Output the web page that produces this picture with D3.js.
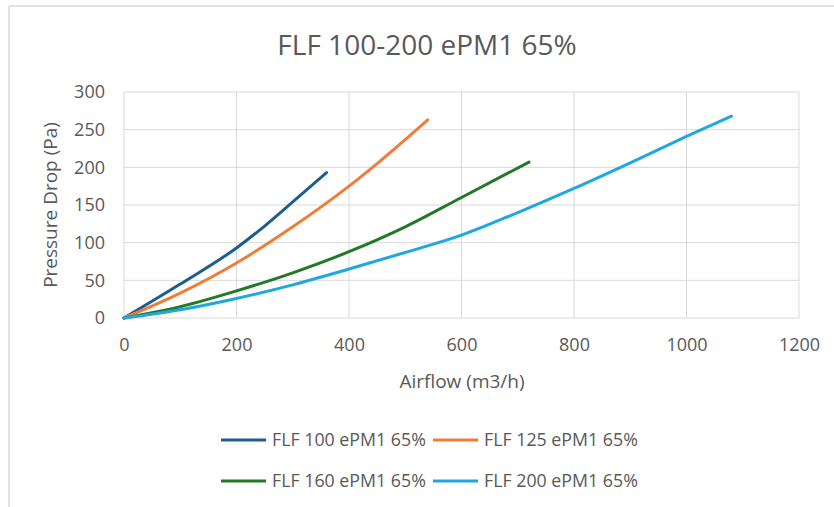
<!DOCTYPE html>
<html>
<head>
<meta charset="utf-8">
<script src="https://cdn.jsdelivr.net/npm/d3@7"></script>
<style>
  body { margin: 0; background: #fff; }
  svg text { font-family: "Open Sans", "Noto Sans", sans-serif; fill: #595959; }
</style>
</head>
<body>
<svg id="chart" width="834" height="507"></svg>
<script>
const seriesNames = ["FLF 100 ePM1 65%", "FLF 125 ePM1 65%", "FLF 160 ePM1 65%", "FLF 200 ePM1 65%"];
const seriesColors = ["#1d5f8a", "#f07c3a", "#23782a", "#1ea7e1"];

const flf100 = [[0,0],[100,45],[200,93],[250,122],[300,154],[360,193]];
const flf125 = [[0,0],[100,33],[200,73],[300,121],[400,175],[450,205],[540,263]];
const flf160 = [[0,0],[100,15],[200,36],[300,60],[400,88],[500,121],[600,160],[720,207]];
const flf200 = [[0,0],[100,11],[200,26],[300,44],[400,65],[500,87],[600,110],[700,140],[800,172],[900,206],[1000,241],[1080,268]];

const xTicks = [0,200,400,600,800,1000,1200];
const yTicks = [0,50,100,150,200,250,300];

const allSeries = [flf100, flf125, flf160, flf200];

const svg = d3.select("#chart");
const plot = {left:124, right:799, top:92, bottom:318};

// chart frame (only top and left edges show in the source)
svg.append("line").attr("x1",9).attr("x2",834).attr("y1",6).attr("y2",6)
   .attr("stroke","#d9d9d9").attr("stroke-width",1.5);
svg.append("line").attr("x1",9).attr("x2",9).attr("y1",6).attr("y2",507)
   .attr("stroke","#d9d9d9").attr("stroke-width",1.5);

const x = d3.scaleLinear().domain([0,1200]).range([plot.left, plot.right]);
const y = d3.scaleLinear().domain([0,300]).range([plot.bottom, plot.top]);

// gridlines
svg.append("g")
  .selectAll("line").data(xTicks).join("line")
  .attr("x1",d=>x(d)).attr("x2",d=>x(d))
  .attr("y1",plot.top).attr("y2",plot.bottom)
  .attr("stroke","#d9d9d9").attr("stroke-width",1);
svg.append("g")
  .selectAll("line").data(yTicks).join("line")
  .attr("x1",plot.left).attr("x2",plot.right)
  .attr("y1",d=>y(d)).attr("y2",d=>y(d))
  .attr("stroke","#d9d9d9").attr("stroke-width",1);

// axes, text only
const xAxis = svg.append("g").attr("transform",`translate(0,${plot.bottom})`)
  .call(d3.axisBottom(x).tickValues(xTicks).tickSize(0).tickPadding(20).tickFormat(d3.format("d")));
const yAxis = svg.append("g").attr("transform",`translate(${plot.left},0)`)
  .call(d3.axisLeft(y).tickValues(yTicks).tickSize(0).tickPadding(19).tickFormat(d3.format("d")));
[xAxis, yAxis].forEach(a => {
  a.select(".domain").remove();
  a.selectAll("text").style("font-size","18px").style("fill","#595959");
});

// lines
const line = d3.line().x(d=>x(d[0])).y(d=>y(d[1])).curve(d3.curveMonotoneX);
svg.append("g").selectAll("path").data(allSeries).join("path")
  .attr("d", line)
  .attr("fill","none")
  .attr("stroke",(d,i)=>seriesColors[i])
  .attr("stroke-width",3)
  .attr("stroke-linecap","round");

// titles
svg.append("text").attr("x",427).attr("y",55).attr("text-anchor","middle")
  .style("font-size","28px").text("FLF 100-200 ePM1 65%");
svg.append("text").attr("x",462).attr("y",388).attr("text-anchor","middle")
  .style("font-size","19px").text("Airflow (m3/h)");
svg.append("text").attr("transform","translate(57,205) rotate(-90)").attr("text-anchor","middle")
  .style("font-size","19px").text("Pressure Drop (Pa)");

// legend
const legendPos = [[221,440],[433,440],[221,481],[433,481]];
const lg = svg.append("g").selectAll("g").data(seriesNames).join("g")
  .attr("transform",(d,i)=>`translate(${legendPos[i][0]},${legendPos[i][1]})`);
lg.append("line").attr("x1",0).attr("x2",45).attr("y1",0).attr("y2",0)
  .attr("stroke",(d,i)=>seriesColors[i]).attr("stroke-width",3);
lg.append("text").attr("x",51).attr("y",6).style("font-size","17.8px").text(d=>d);
</script>
</body>
</html>
